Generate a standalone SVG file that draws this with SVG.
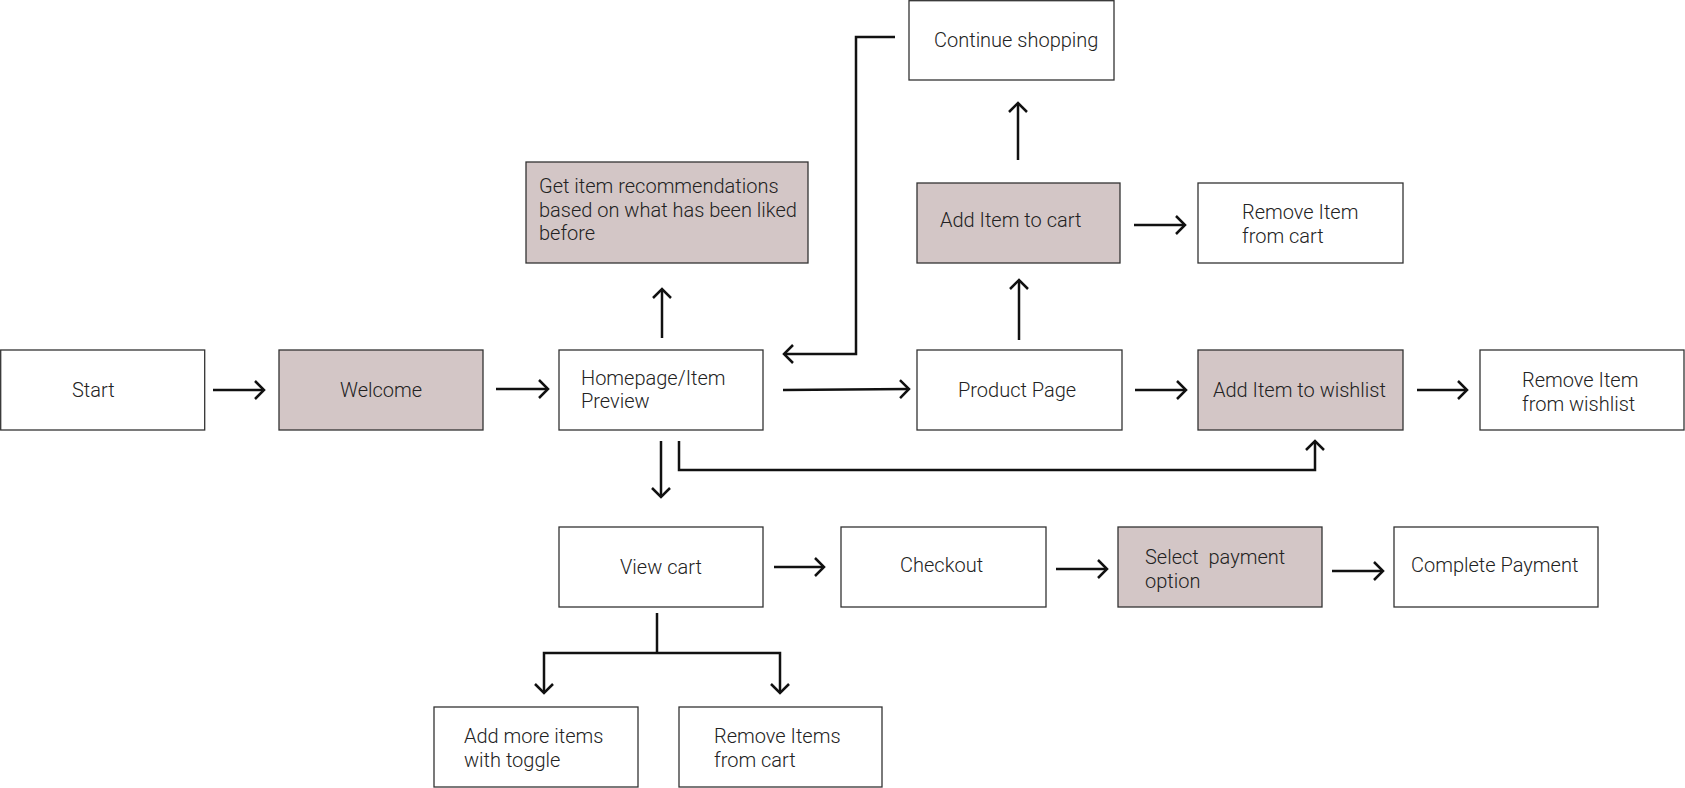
<svg xmlns="http://www.w3.org/2000/svg" width="1685" height="788" viewBox="0 0 1685 788">
<style>
.box{fill:#ffffff;stroke:#333333;stroke-width:1.3}
.hl{fill:#d3c6c6;stroke:#333333;stroke-width:1.3}
.t{font-family:Roboto,"Liberation Sans",sans-serif;font-weight:300;font-size:20px;fill:#222222;white-space:pre}
.c{fill:none;stroke:#111111;stroke-width:2.5;marker-end:url(#ah)}
.l{fill:none;stroke:#111111;stroke-width:2.5}
</style>
<defs>
<marker id="ah" markerUnits="userSpaceOnUse" viewBox="-12 -12 24 24" markerWidth="24" markerHeight="24" refX="0" refY="0" orient="auto" overflow="visible">
<path d="M-9,-9 L0,0 L-9,9" fill="none" stroke="#111111" stroke-width="2.5"/>
</marker>
</defs>
<rect width="1685" height="788" fill="#ffffff"/>
<g id="connectors">
<line class="c" x1="213" y1="390" x2="264" y2="390"/>
<line class="c" x1="496" y1="389" x2="548" y2="389"/>
<line class="c" x1="783" y1="390" x2="909" y2="389"/>
<line class="c" x1="1135" y1="390" x2="1186" y2="390"/>
<line class="c" x1="1417" y1="390" x2="1467" y2="390"/>
<line class="c" x1="662" y1="338" x2="662" y2="289"/>
<line class="c" x1="1019" y1="340" x2="1019" y2="280"/>
<line class="c" x1="1134" y1="225" x2="1185" y2="225"/>
<line class="c" x1="1018" y1="160" x2="1018" y2="103"/>
<polyline class="c" points="895,37 856,37 856,354 784,354"/>
<line class="c" x1="661" y1="441" x2="661" y2="497"/>
<polyline class="c" points="679,441 679,470 1315,470 1315,441"/>
<line class="c" x1="774" y1="567" x2="824" y2="567"/>
<line class="c" x1="1056" y1="569" x2="1107" y2="569"/>
<line class="c" x1="1332" y1="571" x2="1383" y2="571"/>
<line class="l" x1="657" y1="613" x2="657" y2="653"/>
<polyline class="c" points="657,653 544,653 544,693"/>
<polyline class="c" points="657,653 780,653 780,693"/>
</g>
<g id="start"><rect class="box" x="0.7" y="350" width="204" height="80"/><text class="t" x="72" y="397">Start</text></g>
<g id="welcome"><rect class="hl" x="279" y="350" width="204" height="80"/><text class="t" x="340" y="397">Welcome</text></g>
<g id="homepage"><rect class="box" x="559" y="350" width="204" height="80"/><text class="t" x="581" y="385">Homepage/Item</text><text class="t" x="581" y="408">Preview</text></g>
<g id="recommendations"><rect class="hl" x="526" y="162" width="282" height="101"/><text class="t" x="539" y="193">Get item recommendations</text><text class="t" x="539" y="217">based on what has been liked</text><text class="t" x="539" y="240">before</text></g>
<g id="continue-shopping"><rect class="box" x="909" y="0.7" width="205" height="79.3"/><text class="t" x="934" y="47">Continue shopping</text></g>
<g id="add-to-cart"><rect class="hl" x="917" y="183" width="203" height="80"/><text class="t" x="940" y="227">Add Item to cart</text></g>
<g id="remove-from-cart"><rect class="box" x="1198" y="183" width="205" height="80"/><text class="t" x="1242" y="219">Remove Item</text><text class="t" x="1242" y="243">from cart</text></g>
<g id="product-page"><rect class="box" x="917" y="350" width="205" height="80"/><text class="t" x="958" y="397">Product Page</text></g>
<g id="add-to-wishlist"><rect class="hl" x="1198" y="350" width="205" height="80"/><text class="t" x="1213" y="397">Add Item to wishlist</text></g>
<g id="remove-from-wishlist"><rect class="box" x="1480" y="350" width="204" height="80"/><text class="t" x="1522" y="387">Remove Item</text><text class="t" x="1522" y="411">from wishlist</text></g>
<g id="view-cart"><rect class="box" x="559" y="527" width="204" height="80"/><text class="t" x="620" y="574">View cart</text></g>
<g id="checkout"><rect class="box" x="841" y="527" width="205" height="80"/><text class="t" x="900" y="572">Checkout</text></g>
<g id="select-payment"><rect class="hl" x="1118" y="527" width="204" height="80"/><text class="t" x="1145" y="564" xml:space="preserve">Select  payment</text><text class="t" x="1145" y="588">option</text></g>
<g id="complete-payment"><rect class="box" x="1394" y="527" width="204" height="80"/><text class="t" x="1411" y="572">Complete Payment</text></g>
<g id="add-more-items"><rect class="box" x="434" y="707" width="204" height="80"/><text class="t" x="464" y="743">Add more items</text><text class="t" x="464" y="767">with toggle</text></g>
<g id="remove-items"><rect class="box" x="679" y="707" width="203" height="80"/><text class="t" x="714" y="743">Remove Items</text><text class="t" x="714" y="767">from cart</text></g>
</svg>
